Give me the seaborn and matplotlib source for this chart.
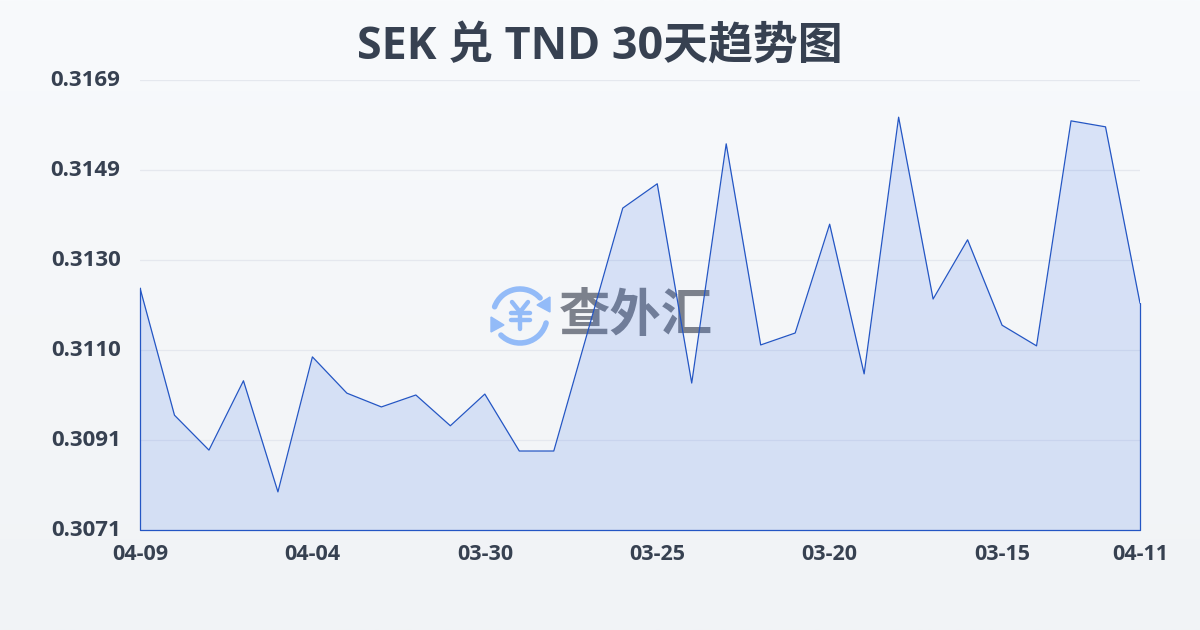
import numpy as np
import pandas as pd
import seaborn as sns
import matplotlib
matplotlib.use("Agg")
import matplotlib.pyplot as plt
import matplotlib.transforms as mtrans
from matplotlib.patches import Arc, Polygon

dates = ["04-09", "04-08", "04-07", "04-06", "04-05", "04-04", "04-03", "04-02", "04-01", "03-31",
         "03-30", "03-29", "03-28", "03-27", "03-26", "03-25", "03-24", "03-23", "03-22", "03-21",
         "03-20", "03-19", "03-18", "03-17", "03-16", "03-15", "03-14", "03-13", "03-12", "04-11"]
rates = [0.31237, 0.30960, 0.30884, 0.31035, 0.30793, 0.31087, 0.31008, 0.30978, 0.31004, 0.30937,
         0.31006, 0.30882, 0.30882, 0.31146, 0.31411, 0.31464, 0.31030, 0.31551, 0.31113, 0.31139,
         0.31376, 0.31050, 0.31609, 0.31213, 0.31342, 0.31156, 0.31111, 0.31601, 0.31588, 0.31204]
y_ticks = [0.3071, 0.30906, 0.31102, 0.31298, 0.31494, 0.3169]
y_labels = ["0.3071", "0.3091", "0.3110", "0.3130", "0.3149", "0.3169"]
x_tick_pos = [0, 5, 10, 15, 20, 25, 29]

LINE = "#2456c4"
TEXT = "#374151"
FONTS = ["Open Sans", "Noto Sans CJK SC", "DejaVu Sans"]

sns.set_theme(style="white")
plt.rcParams["font.family"] = FONTS
plt.rcParams["font.weight"] = "bold"

df = pd.DataFrame({"pos": range(len(rates)), "rate": rates})

fig = plt.figure(figsize=(12, 6.3), dpi=100)

# page background, a soft vertical gradient
bg = fig.add_axes([0, 0, 1, 1], zorder=0)
bg.imshow(np.linspace(0, 1, 256).reshape(-1, 1), aspect="auto", extent=[0, 1200, 630, 0],
          cmap=matplotlib.colors.LinearSegmentedColormap.from_list("bg", ["#f8fafc", "#f1f3f6"]))
bg.set_xlim(0, 1200)
bg.set_ylim(630, 0)
bg.axis("off")

# watermark sits between background and chart
bg.text(636, 315, "查外汇", fontsize=37, color="#7c818c", ha="center", va="center",
        family=["Noto Sans CJK SC"], fontweight="black")
blue = "#93bbf8"
bg.add_patch(Arc((520, 316), 54, 54, theta1=200, theta2=318, color=blue, lw=4, capstyle="round"))
bg.add_patch(Arc((520, 316), 54, 54, theta1=15, theta2=135, color=blue, lw=4, capstyle="round"))
bg.add_patch(Polygon([[550, 297], [550, 312], [537, 305]], color=blue))
bg.add_patch(Polygon([[491, 317], [491, 332], [504, 325]], color=blue))
# yen sign in the logo
for xs, ys in [([512, 520, 528], [302, 312, 302]), ([511, 530], [313, 313]),
               ([511, 530], [320, 320]), ([520, 520], [312, 329])]:
    bg.plot(xs, ys, color=blue, lw=3.2, solid_capstyle="round", solid_joinstyle="round")

ax = fig.add_axes([140 / 1200, 1 - 530 / 630, 1000 / 1200, 450 / 630], zorder=1)
ax.patch.set_alpha(0)
ax.fill_between(df["pos"], df["rate"], y_ticks[0], facecolor="#2f68e8", alpha=0.15, lw=0, zorder=2)
sns.lineplot(data=df, x="pos", y="rate", color=LINE, lw=0.9, ax=ax, zorder=3)
ax.plot([0, 0, 29, 29], [rates[0], y_ticks[0], y_ticks[0], rates[-1]], color=LINE, lw=0.9,
        zorder=3, clip_on=False)

ax.set_xlim(0, 29)
ax.set_ylim(y_ticks[0], y_ticks[-1])
ax.set_yticks(y_ticks)
ax.set_yticklabels(y_labels, fontsize=16, color=TEXT, fontweight="bold")
ax.set_xticks(x_tick_pos)
ax.set_xticklabels([dates[i] for i in x_tick_pos], fontsize=15.5, color=TEXT, fontweight="bold")
ax.tick_params(axis="y", length=0, pad=14)
ax.tick_params(axis="x", length=6, width=1, color="#e9ecf0", pad=4)
ax.set_xlabel("")
ax.set_ylabel("")
ax.grid(axis="y", color="#e5e8ee", lw=0.9, zorder=1)
ax.set_axisbelow(True)
sns.despine(ax=ax, left=True, bottom=True)

# y labels sit a touch above their grid lines
nudge = mtrans.ScaledTranslation(0, 2 / 100, fig.dpi_scale_trans)
for label in ax.get_yticklabels():
    label.set_transform(label.get_transform() + nudge)

fig.text(600 / 1200, 1 - 47 / 630, "SEK 兑 TND 30天趋势图", fontsize=32.3, color=TEXT,
         ha="center", va="center", fontweight="bold", family=FONTS)

fig.savefig("out.png", dpi=100)
